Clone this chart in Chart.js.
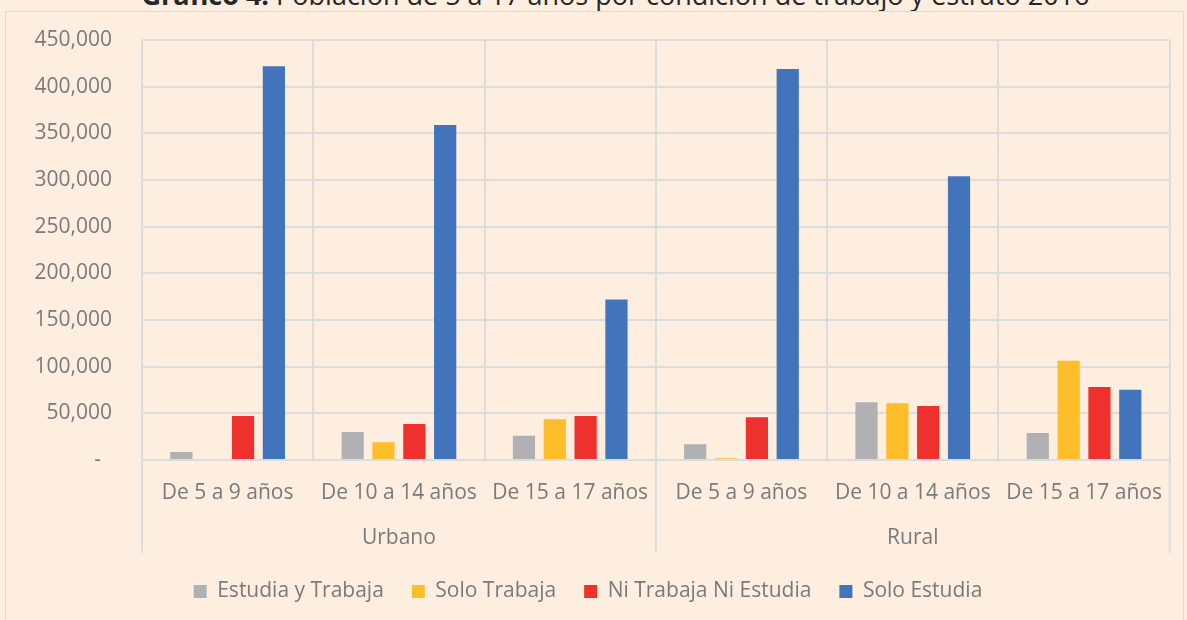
<!DOCTYPE html>
<html>
<head>
<meta charset="utf-8">
<script src="https://cdn.jsdelivr.net/npm/chart.js@4"></script>
<style>
  html, body { margin: 0; padding: 0; background: #fdeee0; overflow: hidden; }
  #title {
    position: absolute; left: 22px; width: 1187px; top: -24px;
    text-align: center; font-family: "Open Sans", sans-serif; font-size: 27px; color: #262626;
    white-space: nowrap;
  }
  #box {
    position: absolute; left: 5px; top: 11px; width: 1177px; height: 620px;
    border: 1px solid #d9d9d9; background: #fdeee0;
  }
  canvas { display: block; }
</style>
</head>
<body>
<div id="title"><b>Gráfico 4:</b> Población de 5 a 17 años por condición de trabajo y estrato 2016</div>
<div id="box"><canvas id="chart" width="1177" height="620"></canvas></div>
<script>
// ─── Data ──────────────────────────────────────────────────────────────────────
const groups = ['Urbano', 'Rural'];
const ageRanges = ['De 5 a 9 años', 'De 10 a 14 años', 'De 15 a 17 años'];
const categories = [...ageRanges, ...ageRanges];

const estudiaYTrabaja = [8500, 30000, 26000, 16800, 62000, 28900];
const soloTrabaja     = [0, 19000, 43600, 1800, 60700, 106300];
const niTrabajaNi     = [47100, 38500, 47100, 45700, 57800, 78200];
const soloEstudia     = [422000, 359000, 172000, 419000, 304000, 75400];

const yTicks = [0, 50000, 100000, 150000, 200000, 250000, 300000, 350000, 400000, 450000];

const FONT = '"Open Sans", sans-serif';
const TEXT = '#7a7a7a';
const GRID = '#dcdcdc';

// ─── Group labels (second level of the category axis) ─────────────────────────
const groupAxis = {
  id: 'groupAxis',
  afterDraw(chart) {
    const x = chart.scales.x;
    const ctx = chart.ctx;
    const per = ageRanges.length;
    const step = x.width / categories.length;
    ctx.save();
    ctx.strokeStyle = GRID;
    ctx.lineWidth = 2;
    for (let g = 0; g <= groups.length; g++) {
      const px = g === 0 ? x.left : x.getPixelForValue(g * per - 1) + step / 2;
      ctx.beginPath();
      ctx.moveTo(px, x.top);
      ctx.lineTo(px, x.bottom);
      ctx.stroke();
    }
    ctx.fillStyle = TEXT;
    ctx.font = '21px ' + FONT;
    ctx.textAlign = 'center';
    ctx.textBaseline = 'middle';
    groups.forEach((name, g) => {
      const a = x.getPixelForValue(g * per);
      const b = x.getPixelForValue(g * per + per - 1);
      ctx.fillText(name, (a + b) / 2, x.top + 78);
    });
    ctx.restore();
  }
};

new Chart(document.getElementById('chart'), {
  type: 'bar',
  data: {
    labels: categories,
    datasets: [
      { label: 'Estudia y Trabaja', data: estudiaYTrabaja, backgroundColor: '#b0b1b3' },
      { label: 'Solo Trabaja', data: soloTrabaja, backgroundColor: '#fdbe2a' },
      { label: 'Ni Trabaja Ni Estudia', data: niTrabajaNi, backgroundColor: '#ee312d' },
      { label: 'Solo Estudia', data: soloEstudia, backgroundColor: '#4174ba' }
    ]
  },
  options: {
    responsive: false,
    animation: false,
    layout: { padding: { top: 28, right: 13, left: 0, bottom: 20 } },
    datasets: { bar: { categoryPercentage: 0.72, barPercentage: 0.72 } },
    scales: {
      x: {
        grid: { color: GRID, lineWidth: 2, drawTicks: false, offset: true },
        border: { color: GRID, width: 2 },
        ticks: { color: TEXT, font: { family: FONT, size: 21 }, padding: 20, maxRotation: 0, autoSkip: false },
        afterFit(scale) { scale.height = 93; }
      },
      y: {
        min: 0, max: 450000,
        afterBuildTicks(scale) { scale.ticks = yTicks.map(v => ({ value: v })); },
        grid: { color: GRID, lineWidth: 2, drawTicks: false },
        border: { display: false },
        ticks: {
          color: TEXT, font: { family: FONT, size: 21 }, padding: 30,
          callback: v => v === 0 ? '-  ' : v.toLocaleString('en-US')
        },
        afterFit(scale) {
          scale.width = 136;
          scale.paddingTop = 0;
          scale.paddingBottom = 0;
        }
      }
    },
    plugins: {
      legend: {
        position: 'bottom',
        labels: { color: TEXT, font: { family: FONT, size: 21 }, boxWidth: 13, boxHeight: 13, padding: 28 }
      },
      tooltip: { enabled: false }
    }
  },
  plugins: [groupAxis]
});
</script>
</body>
</html>
